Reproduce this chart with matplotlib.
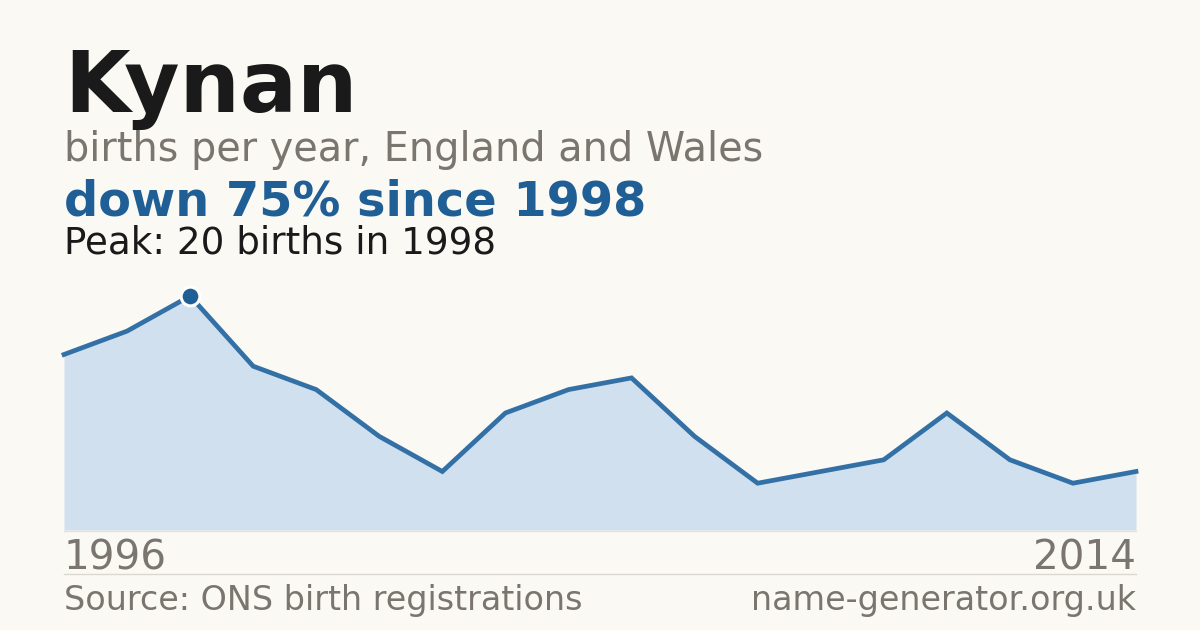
import matplotlib
matplotlib.use("Agg")
import matplotlib.pyplot as plt

plt.rcParams["font.family"] = ["DejaVu Sans"]

# Data
name = "Kynan"
first_year = "1996"
last_year = "2014"
births = [15, 17, 20, 14, 12, 8, 5, 10, 12, 13, 8, 4, 5, 6, 10, 6, 4, 5]
peak_index = 2

BG = "#faf9f4"
BLUE = "#1f5f96"
LINE = "#3270a6"
FILL = "#d0e0ef"
GRAY = "#7a756e"
DARK = "#1a1a1a"

W, H = 1200, 630
fig = plt.figure(figsize=(12, 6.3), dpi=100, facecolor=BG)

def fy(py):
    return 1 - py / H

ax = fig.add_axes([64 / W, fy(530), (1136 - 64) / W, (530 - 296) / H])
ax.set_facecolor(BG)
x = list(range(len(births)))
ax.fill_between(x, births, 0, color=FILL, linewidth=0, zorder=1)
ax.plot(x, births, color=LINE, linewidth=3.4, solid_joinstyle="miter", clip_on=False, zorder=2)
ax.plot([x[peak_index]], [births[peak_index]], "o", color=BLUE, markersize=13.5,
        markeredgecolor="white", markeredgewidth=2.2, clip_on=False, zorder=3)
ax.set_xlim(0, len(births) - 1)
ax.set_ylim(0, max(births))
ax.axis("off")

# baseline under area
fig.add_artist(plt.Line2D([64 / W, 1136 / W], [fy(530.5), fy(530.5)], color="#e6e0d6", linewidth=1))
# separator
fig.add_artist(plt.Line2D([64 / W, 1136 / W], [fy(574), fy(574)], color="#dcd8d0", linewidth=1))

fig.text(64 / W, fy(112), name, fontsize=61, fontweight="bold", color=DARK, va="baseline", ha="left")
fig.text(64 / W, fy(161), "births per year, England and Wales", fontsize=28.6, color=GRAY, va="baseline", ha="left")
fig.text(64 / W, fy(215), "down 75% since 1998", fontsize=34.5, fontweight="bold", color=BLUE, va="baseline", ha="left")
fig.text(64 / W, fy(254), "Peak: 20 births in 1998", fontsize=26.8, color=DARK, va="baseline", ha="left")
fig.text(64 / W, fy(569), first_year, fontsize=29.2, color=GRAY, va="baseline", ha="left")
fig.text(1136 / W, fy(569), last_year, fontsize=29.2, color=GRAY, va="baseline", ha="right")
fig.text(64 / W, fy(610), "Source: ONS birth registrations", fontsize=24, color=GRAY, va="baseline", ha="left")
fig.text(1136 / W, fy(610), "name-generator.org.uk", fontsize=24, color=GRAY, va="baseline", ha="right")

fig.savefig("out.png", dpi=100, facecolor=BG)
